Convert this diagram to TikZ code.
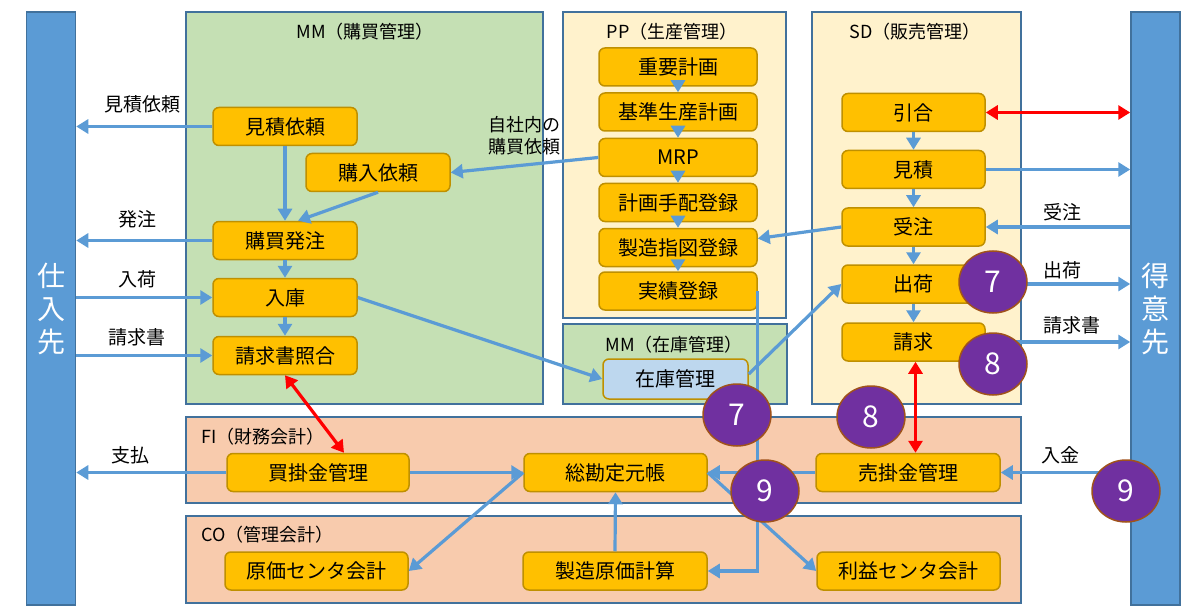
\documentclass[tikz,border=0pt]{standalone}
\usepackage{fontspec}
\setmainfont{Noto Sans CJK JP}
\usepackage{tikz}
\usetikzlibrary{arrows.meta}
\usetikzlibrary{shapes.geometric}

\definecolor{barblue}{HTML}{5B9BD5}
\definecolor{barline}{HTML}{41719C}
\definecolor{panelline}{HTML}{41719C}
\definecolor{mmgreen}{HTML}{C5E0B4}
\definecolor{ppyellow}{HTML}{FFF2CC}
\definecolor{fisalmon}{HTML}{F8CBAD}
\definecolor{procfill}{HTML}{FFC000}
\definecolor{procline}{HTML}{BF9000}
\definecolor{stockfill}{HTML}{BDD7EE}
\definecolor{flowblue}{HTML}{5B9BD5}
\definecolor{steppurple}{HTML}{7030A0}
\definecolor{stepline}{HTML}{A0521C}

\tikzset{
  sidebar/.style={draw=barline, fill=barblue, line width=1.5pt, minimum width=49pt, minimum height=593pt, text=white, align=center, font=\fontsize{28}{33}\selectfont},
  panel/.style={draw=panelline, line width=2pt},
  paneltitle/.style={font=\fontsize{18}{21}\selectfont},
  proc/.style={draw=procline, fill=procfill, line width=1.5pt, rounded corners=6pt, minimum width=#1, minimum height=38pt, font=\fontsize{20}{24}\selectfont},
  flowlabel/.style={font=\fontsize{19}{22}\selectfont, align=center},
  flow/.style={draw=flowblue, line width=3.2pt, -{Triangle[width=14pt,length=12pt]}},
  tieline/.style={draw=red, line width=3.2pt, {Triangle[width=14pt,length=12pt]}-{Triangle[width=14pt,length=12pt]}},
  stepnum/.style={ellipse, draw=stepline, fill=steppurple, line width=1.5pt, minimum width=68pt, minimum height=62pt, inner sep=0pt, text=white, font=\fontsize{30}{32}\selectfont}
}

\begin{document}
\begin{tikzpicture}[x=1pt, y=-1pt]
\useasboundingbox (0,0) rectangle (1203,615);

\node[sidebar] (shiire) at (51,308.5) {仕\\入\\先};
\node[sidebar] (tokui) at (1155.5,308.5) {得\\意\\先};

\node[panel, fill=mmgreen, minimum width=357pt, minimum height=392pt] (mmpanel) at (364.5,208) {};
\node[panel, fill=ppyellow, minimum width=223pt, minimum height=306pt] (pppanel) at (674.5,165) {};
\node[panel, fill=ppyellow, minimum width=209pt, minimum height=392pt] (sdpanel) at (916.5,208) {};
\node[panel, fill=mmgreen, minimum width=224pt, minimum height=80pt] (stockpanel) at (675,364) {};
\node[panel, fill=fisalmon, minimum width=835pt, minimum height=86pt] (fipanel) at (603.5,460) {};
\node[panel, fill=fisalmon, minimum width=835pt, minimum height=87pt] (copanel) at (603.5,559.5) {};

\node[paneltitle] (mmtitle) at (365,32) {MM（購買管理）};
\node[paneltitle] (pptitle) at (672,32) {PP（生産管理）};
\node[paneltitle] (sdtitle) at (915,32) {SD（販売管理）};
\node[paneltitle] (stocktitle) at (674,345) {MM（在庫管理）};
\node[paneltitle, anchor=west] (fititle) at (198,437) {FI（財務会計）};
\node[paneltitle, anchor=west] (cotitle) at (198,535) {CO（管理会計）};

\node[proc=144pt] (mitsuirai) at (285,126.5) {見積依頼};
\node[proc=144pt] (konyu) at (378,172.5) {購入依頼};
\node[proc=144pt] (hatchu) at (285,240.5) {購買発注};
\node[proc=144pt] (nyuko) at (285,297.5) {入庫};
\node[proc=144pt] (shogo) at (285,355.5) {請求書照合};

\node[proc=158pt] (juyo) at (678,67) {重要計画};
\node[proc=158pt] (kijun) at (678,112) {基準生産計画};
\node[proc=158pt] (mrp) at (678,157.5) {MRP};
\node[proc=158pt] (tehai) at (678,202.5) {計画手配登録};
\node[proc=158pt] (shizu) at (678,247.5) {製造指図登録};
\node[proc=158pt] (jisseki) at (678,291) {実績登録};

\node[proc=143pt] (hikiai) at (913.5,112.5) {引合};
\node[proc=143pt] (mitsumori) at (913.5,169.5) {見積};
\node[proc=143pt] (juchu) at (913.5,227) {受注};
\node[proc=143pt] (shukka) at (913.5,284) {出荷};
\node[proc=143pt] (seikyu) at (913.5,342) {請求};

\node[proc=145pt, fill=stockfill, minimum height=40pt] (zaiko) at (675.5,379) {在庫管理};

\node[proc=182pt] (kaikake) at (318,472.5) {買掛金管理};
\node[proc=183pt] (sokanjo) at (615.5,472.5) {総勘定元帳};
\node[proc=184pt] (urikake) at (908,472.5) {売掛金管理};
\node[proc=183pt] (genka) at (316.5,571) {原価センタ会計};
\node[proc=184pt] (seizo) at (615,571) {製造原価計算};
\node[proc=183pt] (rieki) at (908.5,571) {利益センタ会計};

\node[flowlabel] (lbmitsu) at (142,104) {見積依頼};
\node[flowlabel] (lbhatchu) at (137,219) {発注};
\node[flowlabel] (lbnyuka) at (137,279) {入荷};
\node[flowlabel] (lbseikyu) at (137,337) {請求書};
\node[flowlabel] (lbshiharai) at (130,455) {支払};
\node[flowlabel, font=\fontsize{18}{22}\selectfont] (lbshanai) at (524,136) {自社内の\\購買依頼};
\node[flowlabel] (lbjuchu) at (1062,212) {受注};
\node[flowlabel] (lbshukka) at (1062,270) {出荷};
\node[flowlabel] (lbseikyusho) at (1072,325) {請求書};
\node[flowlabel] (lbnyukin) at (1060,455) {入金};

\draw[flow] (mitsuirai.west) -- (shiire.east |- mitsuirai.west);
\draw[flow] (mitsuirai.south) -- (hatchu.north);
\draw[flow] (konyu.south) -- ([xshift=13pt]hatchu.north);
\draw[flow] (mrp.west) -- (konyu.east);
\draw[flow] (hatchu.west) -- (shiire.east |- hatchu.west);
\draw[flow] (hatchu.south) -- (nyuko.north);
\draw[flow] (shiire.east |- nyuko.west) -- (nyuko.west);
\draw[flow] (nyuko.south) -- (shogo.north);
\draw[flow] (shiire.east |- shogo.west) -- (shogo.west);
\draw[flow] (nyuko.east) -- (zaiko.west);

\draw[flow] (juyo.south) -- (kijun.north);
\draw[flow] (kijun.south) -- (mrp.north);
\draw[flow] (mrp.south) -- (tehai.north);
\draw[flow] (tehai.south) -- (shizu.north);
\draw[flow] (shizu.south) -- (jisseki.north);
\draw[flow] (jisseki.east) |- (seizo.east);

\draw[flow] (hikiai.south) -- (mitsumori.north);
\draw[flow] (mitsumori.south) -- (juchu.north);
\draw[flow] (juchu.south) -- (shukka.north);
\draw[flow] (shukka.south) -- (seikyu.north);
\draw[flow] (mitsumori.east) -- (tokui.west |- mitsumori.east);
\draw[flow] (tokui.west |- juchu.east) -- (juchu.east);
\draw[flow] (shukka.east) -- (tokui.west |- shukka.east);
\draw[flow] (seikyu.east) -- (tokui.west |- seikyu.east);
\draw[flow] (juchu.west) -- ([yshift=9pt]shizu.east);
\draw[flow] ([yshift=5pt]zaiko.east) -- (shukka.west);

\draw[flow] (kaikake.west) -- (shiire.east |- kaikake.west);
\draw[flow] (kaikake.east) -- (sokanjo.west);
\draw[flow] (sokanjo.west) -- (genka.east);
\draw[flow] (seizo.north) -- (sokanjo.south);
\draw[flow] (urikake.west) -- (sokanjo.east);
\draw[flow] (sokanjo.east) -- (rieki.west);
\draw[flow] (tokui.west |- urikake.east) -- (urikake.east);

\draw[tieline] (hikiai.east) -- (tokui.west |- hikiai.east);
\draw[tieline] (shogo.south) -- ([xshift=26pt]kaikake.north);
\draw[tieline] ([xshift=2pt]seikyu.south) -- ([xshift=2pt]seikyu.south |- urikake.north);

\node[stepnum] (step7a) at (993,282) {7};
\node[stepnum] (step8a) at (993,364) {8};
\node[stepnum] (step7b) at (737,415) {7};
\node[stepnum] (step8b) at (871,417) {8};
\node[stepnum] (step9a) at (765,491) {9};
\node[stepnum] (step9b) at (1126,491) {9};
\end{tikzpicture}
\end{document}
